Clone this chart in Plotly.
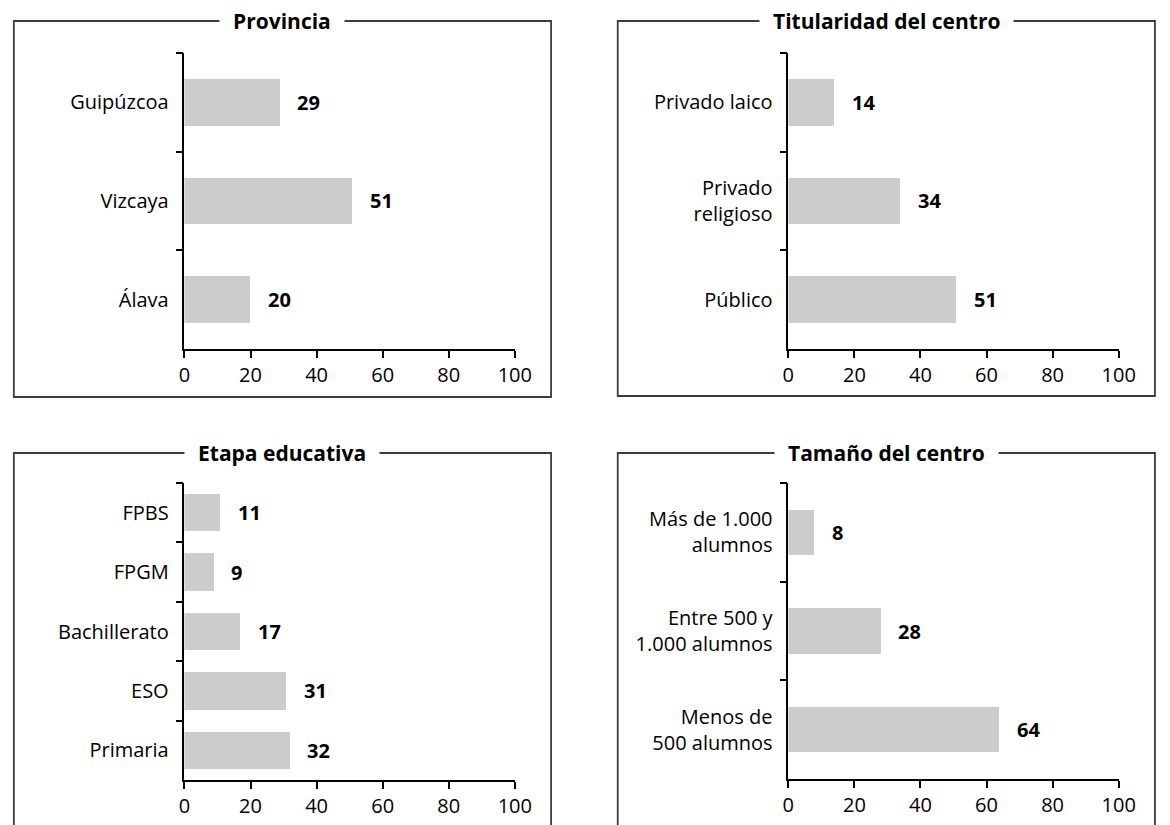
import plotly.graph_objects as go

# Category labels (top to bottom) and values for each panel
provincia_cats = ["Guipúzcoa", "Vizcaya", "Álava"]
provincia_vals = [29, 51, 20]

titularidad_cats = ["Privado laico", "Privado<br>religioso", "Público"]
titularidad_vals = [14, 34, 51]

etapa_cats = ["FPBS", "FPGM", "Bachillerato", "ESO", "Primaria"]
etapa_vals = [11, 9, 17, 31, 32]

tamano_cats = ["Más de 1.000<br>alumnos", "Entre 500 y<br>1.000 alumnos", "Menos de<br>500 alumnos"]
tamano_vals = [8, 28, 64]

x_ticks = [0, 20, 40, 60, 80, 100]

W, H = 1170, 825
FONT = "Open Sans"
BAR_COLOR = "#cccccc"
BORDER_COLOR = "#3c3c3c"


def px(x):
    return x / W


def py(y):
    return 1 - y / H


panels = [
    dict(title="Provincia", cats=provincia_cats, vals=provincia_vals, bw=0.47,
         ax=(182, 519), ay=(53, 349), box=(8, 21, 556, 397)),
    dict(title="Titularidad del centro", cats=titularidad_cats, vals=titularidad_vals, bw=0.47,
         ax=(798, 1135), ay=(53, 349), box=(624, 21, 1172, 396)),
    dict(title="Etapa educativa", cats=etapa_cats, vals=etapa_vals, bw=0.63,
         ax=(182, 519), ay=(483, 780), box=(8, 453, 556, 840)),
    dict(title="Tamaño del centro", cats=tamano_cats, vals=tamano_vals, bw=0.46,
         ax=(798, 1135), ay=(483, 779), box=(624, 453, 1172, 840)),
]

fig = go.Figure()
shapes = []
annotations = []

for i, p in enumerate(panels, start=1):
    xa = "x" if i == 1 else f"x{i}"
    ya = "y" if i == 1 else f"y{i}"
    n = len(p["cats"])

    fig.add_trace(go.Bar(
        x=p["vals"], y=p["cats"], orientation="h",
        width=p["bw"], marker=dict(color=BAR_COLOR, line=dict(width=0)),
        xaxis=xa, yaxis=ya, hoverinfo="skip", showlegend=False,
    ))

    # value labels next to each bar
    for c, v in zip(p["cats"], p["vals"]):
        annotations.append(dict(
            x=v, y=c, xref=xa, yref=ya, text=f"<b>{v}</b>", showarrow=False,
            xanchor="left", yanchor="middle", xshift=15,
            font=dict(family=FONT, size=20, color="black"),
        ))

    axis_common = dict(showline=True, linecolor="black", linewidth=1.5,
                       ticks="outside", ticklen=7, tickwidth=1.5, tickcolor="black",
                       showgrid=False, zeroline=False, fixedrange=True,
                       tickfont=dict(family=FONT, size=20, color="black"))

    fig.layout[f"xaxis{'' if i == 1 else i}"] = dict(
        domain=[px(p["ax"][0]), px(p["ax"][1])], anchor=ya,
        range=[0, 100], tickvals=x_ticks, ticklabelstandoff=0, **axis_common)
    fig.layout[f"yaxis{'' if i == 1 else i}"] = dict(
        domain=[py(p["ay"][1]), py(p["ay"][0])], anchor=xa,
        type="category", categoryorder="array", categoryarray=p["cats"],
        range=[n - 0.5, -0.5], tickson="boundaries", ticklabelstandoff=10,
        **axis_common)

    # panel frame
    x0, y0, x1, y1 = p["box"]
    shapes.append(dict(type="rect", xref="paper", yref="paper",
                       x0=px(x0), x1=px(x1), y0=py(y1), y1=py(y0),
                       line=dict(color=BORDER_COLOR, width=1.8), layer="below"))

    # panel title sitting on the top edge of the frame
    annotations.append(dict(
        x=px((x0 + x1) / 2), y=py(y0), xref="paper", yref="paper",
        text=f"<b>{p['title']}</b>", showarrow=False,
        xanchor="center", yanchor="middle",
        bgcolor="white", borderpad=13,
        font=dict(family=FONT, size=21, color="black"),
    ))

fig.update_layout(
    width=W, height=H, margin=dict(l=0, r=0, t=0, b=0),
    paper_bgcolor="white", plot_bgcolor="white",
    showlegend=False, bargap=0,
    shapes=shapes, annotations=annotations,
    font=dict(family=FONT, size=20, color="black"),
)

fig.write_html("out.html")
